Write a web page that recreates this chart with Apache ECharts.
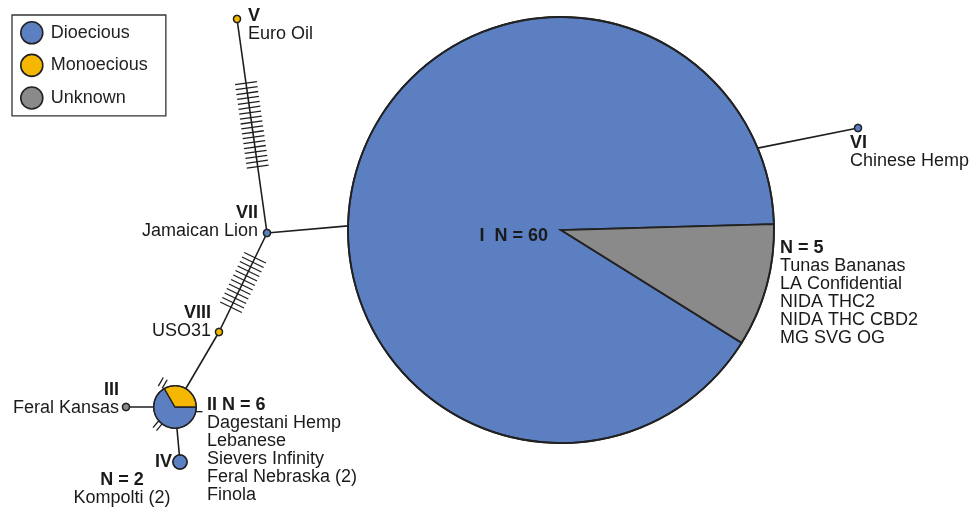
<!DOCTYPE html>
<html><head><meta charset="utf-8">
<script src="https://cdn.jsdelivr.net/npm/echarts@6/dist/echarts.min.js"></script>
<style>html,body{margin:0;padding:0;background:#fff}#c{width:970px;height:508px}</style>
</head><body><div id="c"></div>
<script>
// ---------------- DATA ----------------
const haplotypes = ['I', 'II', 'III', 'IV', 'V', 'VI', 'VII', 'VIII'];
const dioecious  = [54.4, 4, 0, 2, 0, 1, 1, 0];
const monoecious = [0,    2, 0, 0, 1, 0, 0, 1];
const unknown    = [5.6,  0, 1, 0, 0, 0, 0, 0];
const sampleN    = [60, 6, 1, 2, 1, 1, 1, 1];
const nodeTitles = ['I  N = 60', 'II N = 6', 'III', 'IV', 'V', 'VI', 'VII', 'VIII'];
const strains = [
  [],
  ['Dagestani Hemp', 'Lebanese', 'Sievers Infinity', 'Feral Nebraska (2)', 'Finola'],
  ['Feral Kansas'],
  ['Kompolti (2)'],
  ['Euro Oil'],
  ['Chinese Hemp'],
  ['Jamaican Lion'],
  ['USO31']
];
const unknownGroupTitle = 'N = 5';
const unknownStrainsI = ['Tunas Bananas', 'LA Confidential', 'NIDA THC2', 'NIDA THC CBD2', 'MG SVG OG'];
const subTitleIV = 'N = 2';
const edgeFrom = ['V', 'VII', 'VII', 'VIII', 'II', 'II', 'I'];
const edgeTo   = ['VII', 'I', 'VIII', 'II', 'III', 'IV', 'VI'];
const edgeMutations = [18, 0, 12, 0, 0, 0, 0];
const stubMutations = [2, 2, 1]; // unlinked mutation marks around haplotype II
const categories = ['Dioecious', 'Monoecious', 'Unknown'];

// ---------------- LAYOUT / STYLE ----------------
const colors = ['#5b7fc1', '#f5b700', '#8a8a8a'];
const FONT = '"Liberation Sans", Arial, Helvetica, sans-serif';
const layout = {
  I: {x: 561, y: 230, start: 32}, II: {x: 175, y: 407, start: 0}, III: {x: 126, y: 407},
  IV: {x: 180, y: 462}, V: {x: 237, y: 19}, VI: {x: 858, y: 128}, VII: {x: 267, y: 233}, VIII: {x: 219, y: 332}
};
const radiusPerSample = 3.55;
const edgePorts = {1: {end: 'to', angle: 181.1}, 6: {end: 'from', angle: -22.6}};
const tickSpan = {0: [0.30, 0.69, 11], 2: [0.25, 0.75, 12]};
const stubLayout = [
  {node: 'II', angle: -117, dist: 27, gap: 4.5, tickAngle: -60, half: 5},
  {node: 'II', angle: 133, dist: 25, gap: 4.5, tickAngle: -50, half: 5},
  {node: 'II', angle: 11, dist: 24.5, gap: 0, tickAngle: 0, half: 3.5}
];
const labelLayout = {
  I:   {dx: -13, dy: 6, align: 'right'},
  II:  {dx: 32, dy: -2, align: 'left'},
  III: {dx: -7, dy: -17, align: 'right'},
  IV:  {dx: -8, dy: 0, align: 'right'},
  V:   {dx: 11, dy: -3, align: 'left'},
  VI:  {dx: -8, dy: 15, align: 'left'},
  VII: {dx: -9, dy: -20, align: 'right'},
  VIII:{dx: -8, dy: -19, align: 'right'}
};
const LINE_H = 18;

const idx = h => haplotypes.indexOf(h);
const radiusOf = i => radiusPerSample * sampleN[i];

// label blocks built from data
const labelBlocks = [];
haplotypes.forEach((h, i) => {
  const L = labelLayout[h];
  if (h === 'IV') {
    labelBlocks.push({node: h, dx: L.dx, dy: L.dy, align: 'right', lines: [[nodeTitles[i], true]]});
    labelBlocks.push({node: h, dx: -58, dy: 18, align: 'center',
      lines: [[subTitleIV, true]].concat(strains[i].map(s => [s, false]))});
  } else {
    labelBlocks.push({node: h, dx: L.dx, dy: L.dy, align: L.align,
      lines: [[nodeTitles[i], true]].concat(strains[i].map(s => [s, false]))});
  }
});
labelBlocks.push({node: 'I', dx: 219, dy: 18, align: 'left',
  lines: [[unknownGroupTitle, true]].concat(unknownStrainsI.map(s => [s, false]))});

const chart = echarts.init(document.getElementById('c'), null, {renderer: 'canvas'});

function pt(api, h) { return api.coord([layout[h].x, layout[h].y]); }
function pxR(api, r) { return api.size([r, 0])[0]; }

function edgeEnd(api, e, which) {
  const h = which === 'from' ? edgeFrom[e] : edgeTo[e];
  const c = pt(api, h);
  const p = edgePorts[e];
  if (p && p.end === which) {
    const r = pxR(api, radiusOf(idx(h)));
    const a = p.angle * Math.PI / 180;
    return [c[0] + r * Math.cos(a), c[1] + r * Math.sin(a)];
  }
  return c;
}

const option = {
  animation: false,
  backgroundColor: '#fff',
  grid: {left: 0, right: 0, top: 0, bottom: 0},
  xAxis: {type: 'value', min: 0, max: 970, show: false},
  yAxis: {type: 'value', min: 0, max: 508, inverse: true, show: false},
  legend: {
    orient: 'vertical', left: 12, top: 15, padding: [6, 18, 6, 8], itemGap: 9,
    itemWidth: 22, itemHeight: 22, icon: 'circle', borderColor: '#333', borderWidth: 1.3,
    selectedMode: false,
    data: categories.map((c, k) => ({name: c, itemStyle: {color: colors[k], opacity: 1, borderColor: '#222', borderWidth: 1.6}})),
    textStyle: {fontSize: 18, fontFamily: FONT, color: '#222', padding: [0, 0, 0, 3]}
  },
  series: [
    ...categories.map((c, k) => ({
      type: 'scatter', name: c, data: [],
      itemStyle: {color: colors[k], opacity: 1, borderColor: '#222', borderWidth: 1.6}
    })),
    { // edges
      type: 'custom', z: 1, clip: false,
      data: edgeFrom.map((f, e) => [layout[f].x, layout[f].y, e]),
      encode: {x: 0, y: 1},
      renderItem: (params, api) => {
        const e = api.value(2);
        const a = edgeEnd(api, e, 'from'), b = edgeEnd(api, e, 'to');
        return {type: 'line', shape: {x1: a[0], y1: a[1], x2: b[0], y2: b[1]},
          style: {stroke: '#1e1e1e', lineWidth: 1.6}};
      }
    },
    { // mutation ticks on edges
      type: 'custom', z: 2, clip: false,
      data: edgeFrom.map((f, e) => [layout[f].x, layout[f].y, e]),
      encode: {x: 0, y: 1},
      renderItem: (params, api) => {
        const e = api.value(2);
        const n = edgeMutations[e];
        if (!n) return {type: 'group', children: []};
        const a = pt(api, edgeFrom[e]), b = pt(api, edgeTo[e]);
        const [t0, t1, half] = tickSpan[e];
        const dx = b[0] - a[0], dy = b[1] - a[1], len = Math.hypot(dx, dy);
        const px = -dy / len, py = dx / len;
        const ch = [];
        for (let k = 0; k < n; k++) {
          const t = t0 + (t1 - t0) * k / (n - 1);
          const cx = a[0] + dx * t, cy = a[1] + dy * t;
          ch.push({type: 'line', shape: {x1: cx - px * half, y1: cy - py * half, x2: cx + px * half, y2: cy + py * half},
            style: {stroke: '#1e1e1e', lineWidth: 1.3}});
        }
        return {type: 'group', children: ch};
      }
    },
    { // stub mutation marks
      type: 'custom', z: 2, clip: false,
      data: stubLayout.map((s, k) => [layout[s.node].x, layout[s.node].y, k]),
      encode: {x: 0, y: 1},
      renderItem: (params, api) => {
        const k = api.value(2), s = stubLayout[k], n = stubMutations[k];
        const c = pt(api, s.node);
        const a = s.angle * Math.PI / 180, ta = s.tickAngle * Math.PI / 180;
        const ox = c[0] + s.dist * Math.cos(a), oy = c[1] + s.dist * Math.sin(a);
        const gx = Math.cos(ta + Math.PI / 2), gy = Math.sin(ta + Math.PI / 2);
        const ch = [];
        for (let j = 0; j < n; j++) {
          const off = (j - (n - 1) / 2) * s.gap;
          const cx = ox + gx * off, cy = oy + gy * off;
          ch.push({type: 'line', shape: {x1: cx - Math.cos(ta) * s.half, y1: cy - Math.sin(ta) * s.half,
            x2: cx + Math.cos(ta) * s.half, y2: cy + Math.sin(ta) * s.half},
            style: {stroke: '#1e1e1e', lineWidth: 1.3}});
        }
        return {type: 'group', children: ch};
      }
    },
    { // haplotype nodes (pies)
      type: 'custom', z: 3, clip: false,
      data: haplotypes.map((h, i) => [layout[h].x, layout[h].y, i]),
      encode: {x: 0, y: 1},
      renderItem: (params, api) => {
        const i = api.value(2), h = haplotypes[i];
        const c = api.coord([api.value(0), api.value(1)]);
        const r = pxR(api, radiusOf(i));
        const vals = [dioecious[i], monoecious[i], unknown[i]];
        const tot = vals.reduce((s, v) => s + v, 0);
        const lw = r > 100 ? 1.8 : 1.3;
        const ch = [];
        let ang = (layout[h].start || 0) * Math.PI / 180;
        vals.forEach((v, k) => {
          if (v <= 0) return;
          if (v >= tot) {
            ch.push({type: 'circle', shape: {cx: c[0], cy: c[1], r: r}, style: {fill: colors[k], stroke: '#222', lineWidth: lw}});
            return;
          }
          const end = ang + v / tot * Math.PI * 2;
          ch.push({type: 'sector', shape: {cx: c[0], cy: c[1], r: r, r0: 0, startAngle: ang, endAngle: end, clockwise: true},
            style: {fill: colors[k], stroke: '#222', lineWidth: lw, lineJoin: 'miter'}});
          ang = end;
        });
        ch.push({type: 'circle', shape: {cx: c[0], cy: c[1], r: r}, style: {fill: 'none', stroke: '#222', lineWidth: lw}});
        return {type: 'group', children: ch};
      }
    },
    { // labels
      type: 'custom', z: 4, clip: false,
      data: labelBlocks.map((b, k) => [layout[b.node].x, layout[b.node].y, k]),
      encode: {x: 0, y: 1},
      renderItem: (params, api) => {
        const b = labelBlocks[api.value(2)];
        const c = api.coord([api.value(0), api.value(1)]);
        const ch = b.lines.map((ln, j) => ({
          type: 'text',
          style: {text: ln[0], x: c[0] + b.dx, y: c[1] + b.dy + j * LINE_H,
            fill: '#1a1a1a', fontSize: 18, fontFamily: FONT, fontWeight: ln[1] ? 'bold' : 'normal',
            align: b.align, verticalAlign: 'middle'}
        }));
        return {type: 'group', children: ch};
      }
    }
  ]
};
chart.setOption(option);
</script></body></html>
